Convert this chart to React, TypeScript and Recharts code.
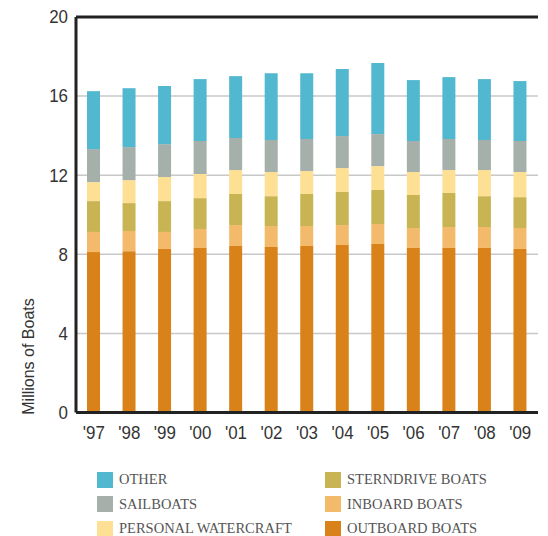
import React from 'react';
import { BarChart, Bar, XAxis, YAxis, CartesianGrid, ReferenceLine } from 'recharts';

const years = ["'97", "'98", "'99", "'00", "'01", "'02", "'03", "'04", "'05", "'06", "'07", "'08", "'09"];
const outboard = [8.11, 8.16, 8.27, 8.32, 8.42, 8.37, 8.42, 8.47, 8.52, 8.32, 8.32, 8.32, 8.27];
const inboard = [1.02, 1.02, 0.86, 0.96, 1.06, 1.06, 1.01, 1.01, 1.01, 1.01, 1.06, 1.06, 1.06];
const sterndrive = [1.56, 1.41, 1.56, 1.56, 1.57, 1.51, 1.62, 1.67, 1.72, 1.67, 1.72, 1.56, 1.56];
const watercraft = [0.96, 1.16, 1.22, 1.22, 1.21, 1.22, 1.16, 1.21, 1.21, 1.16, 1.16, 1.32, 1.27];
const sailboats = [1.67, 1.67, 1.66, 1.67, 1.62, 1.62, 1.62, 1.62, 1.62, 1.57, 1.57, 1.52, 1.57];
const other = [2.93, 2.98, 2.94, 3.13, 3.13, 3.38, 3.33, 3.39, 3.59, 3.08, 3.13, 3.08, 3.03];
const yTicks = [0, 4, 8, 12, 16, 20];

const series = [
  { key: 'outboard', name: 'OUTBOARD BOATS', color: '#d9821a', values: outboard },
  { key: 'inboard', name: 'INBOARD BOATS', color: '#f3ba6c', values: inboard },
  { key: 'sterndrive', name: 'STERNDRIVE BOATS', color: '#c8b453', values: sterndrive },
  { key: 'watercraft', name: 'PERSONAL WATERCRAFT', color: '#fee095', values: watercraft },
  { key: 'sailboats', name: 'SAILBOATS', color: '#a5b0aa', values: sailboats },
  { key: 'other', name: 'OTHER', color: '#52b8cf', values: other },
];

const data = years.map((y, i) => {
  const row: any = { year: y };
  series.forEach((s) => { row[s.key] = s.values[i]; });
  return row;
});

const legendCol1 = ['other', 'sailboats', 'watercraft'];
const legendCol2 = ['sterndrive', 'inboard', 'outboard'];

const tickFont = "'Liberation Sans', Arial, sans-serif";
const SQ = 0.94;

const XTick = (props: any) => {
  const { x, y, payload } = props;
  return (
    <g transform={`translate(${x},${y}) scale(${SQ},1)`}>
      <text x={0} y={0} dy="0.71em" textAnchor="middle" fontFamily={tickFont} fontSize={18} fill="#333">
        {payload.value}
      </text>
    </g>
  );
};

const YTick = (props: any) => {
  const { x, y, payload } = props;
  return (
    <g transform={`translate(${x},${y}) scale(${SQ},1)`}>
      <text x={0} y={0} dy="0.355em" textAnchor="end" fontFamily={tickFont} fontSize={18} fill="#333">
        {payload.value}
      </text>
    </g>
  );
};

const YLabel = () => {
  return (
    <g transform="translate(34 356.5) rotate(-90)">
      <text x={0} y={0} textAnchor="middle" fontFamily={tickFont} fontSize={16} fill="#333">
        Millions of Boats
      </text>
    </g>
  );
};

const LegendItem = ({ k }: { k: string }) => {
  const s = series.find((x) => x.key === k)!;
  return (
    <div style={{ display: 'flex', alignItems: 'center', height: 24.5 }}>
      <div style={{ width: 16, height: 16, background: s.color, marginRight: 6 }} />
      <span style={{ fontFamily: "'Liberation Serif', 'Times New Roman', serif", fontSize: 14.5, color: '#555', whiteSpace: 'nowrap' }}>{s.name}</span>
    </div>
  );
};

export default function App() {
  return (
    <div style={{ position: 'absolute', left: 0, top: 0, width: 548, height: 536, background: '#fff' }}>
      <BarChart
        width={548}
        height={536}
        data={data}
        margin={{ top: 17, right: 10, bottom: 93.5, left: 26 }}
        barSize={13}
      >
        <CartesianGrid vertical={false} stroke="#c8c8c8" strokeWidth={1.5} />
        <XAxis
          dataKey="year"
          height={30}
          tickLine={false}
          axisLine={{ stroke: '#222', strokeWidth: 3 }}
          tick={<XTick />}
          tickMargin={8}
          interval={0}
        />
        <YAxis
          width={50}
          domain={[0, 20]}
          ticks={yTicks}
          tickLine={false}
          axisLine={{ stroke: '#222', strokeWidth: 3 }}
          tick={<YTick />}
          label={<YLabel />}
        />
        <ReferenceLine y={20} stroke="#222" strokeWidth={3} />
        {series.map((s) => (
          <Bar key={s.key} dataKey={s.key} name={s.name} stackId="a" fill={s.color} isAnimationActive={false} />
        ))}
      </BarChart>
      <div style={{ position: 'absolute', left: 97, top: 467.5 }}>
        {legendCol1.map((k) => <LegendItem key={k} k={k} />)}
      </div>
      <div style={{ position: 'absolute', left: 325, top: 467.5 }}>
        {legendCol2.map((k) => <LegendItem key={k} k={k} />)}
      </div>
    </div>
  );
}
